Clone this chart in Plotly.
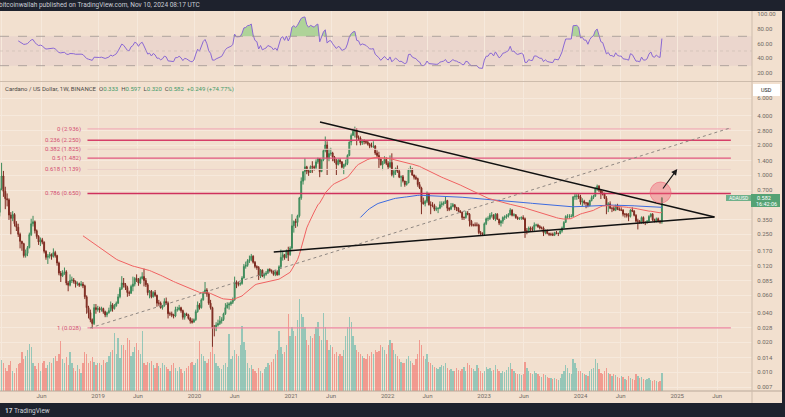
import numpy as np
import pandas as pd
import plotly.graph_objects as go

# ADA/USD weekly candles (Binance), weeks of 2017-11-27 .. 2024-11-04
first_open = 0.115
close = [
    # 2017
    0.139, 0.236, 0.367, 0.418, 0.724,
    # 2018
    0.978, 0.682, 0.575, 0.560, 0.392, 0.363, 0.398, 0.320, 0.295, 0.250, 0.212, 0.201, 0.152,
    0.160, 0.183, 0.248, 0.320, 0.335, 0.272, 0.238, 0.209, 0.220, 0.208, 0.168, 0.146, 0.150,
    0.156, 0.149, 0.163, 0.152, 0.128, 0.101, 0.095, 0.101, 0.104, 0.080, 0.076, 0.085, 0.086,
    0.083, 0.078, 0.079, 0.076, 0.078, 0.075, 0.058, 0.045, 0.040, 0.034, 0.031, 0.045, 0.043, 0.044,
    # 2019
    0.043, 0.044, 0.041, 0.038, 0.040, 0.042, 0.048, 0.044, 0.047, 0.050, 0.058, 0.070, 0.080,
    0.077, 0.072, 0.064, 0.063, 0.074, 0.078, 0.089, 0.087, 0.080, 0.089, 0.093, 0.085, 0.077,
    0.064, 0.066, 0.058, 0.064, 0.060, 0.050, 0.050, 0.045, 0.047, 0.052, 0.050, 0.039, 0.039,
    0.038, 0.037, 0.043, 0.043, 0.045, 0.042, 0.036, 0.039, 0.038, 0.035, 0.033, 0.032, 0.034,
    # 2020
    0.041, 0.048, 0.045, 0.054, 0.063, 0.068, 0.062, 0.050, 0.045, 0.028, 0.028, 0.030, 0.031,
    0.033, 0.034, 0.039, 0.045, 0.048, 0.049, 0.051, 0.054, 0.082, 0.078, 0.078, 0.079, 0.090,
    0.118, 0.121, 0.135, 0.138, 0.150, 0.130, 0.118, 0.115, 0.095, 0.108, 0.094, 0.098, 0.101,
    0.110, 0.107, 0.105, 0.098, 0.104, 0.097, 0.117, 0.146, 0.155, 0.145, 0.170, 0.155, 0.181,
    # 2021
    0.305, 0.338, 0.330, 0.385, 0.585, 0.865, 1.080, 1.210, 1.100, 1.060, 1.220, 1.210, 1.190,
    1.360, 1.470, 1.080, 1.420, 1.770, 2.020, 1.470, 1.650, 1.670, 1.520, 1.380, 1.280, 1.410,
    1.360, 1.200, 1.280, 1.310, 1.580, 2.160, 2.520, 2.780, 2.850, 2.400, 2.370, 2.120, 2.230,
    2.190, 2.150, 2.050, 1.960, 1.950, 1.970, 1.670, 1.580, 1.450, 1.270, 1.350, 1.440, 1.310,
    # 2022
    1.210, 1.340, 1.010, 1.090, 1.160, 1.090, 0.950, 0.960, 0.870, 0.800, 0.830, 1.130, 1.140,
    1.000, 0.950, 0.920, 0.800, 0.740, 0.530, 0.510, 0.540, 0.640, 0.500, 0.490, 0.490, 0.450,
    0.455, 0.460, 0.500, 0.510, 0.520, 0.550, 0.460, 0.450, 0.480, 0.500, 0.470, 0.460, 0.430,
    0.420, 0.370, 0.370, 0.410, 0.400, 0.340, 0.310, 0.310, 0.310, 0.310, 0.260, 0.255, 0.250,
    # 2023
    0.320, 0.360, 0.360, 0.390, 0.390, 0.360, 0.400, 0.355, 0.325, 0.340, 0.370, 0.375, 0.385,
    0.395, 0.440, 0.390, 0.395, 0.370, 0.360, 0.365, 0.370, 0.360, 0.270, 0.270, 0.290, 0.280,
    0.280, 0.310, 0.310, 0.300, 0.290, 0.290, 0.260, 0.270, 0.255, 0.250, 0.250, 0.245, 0.260,
    0.255, 0.255, 0.270, 0.290, 0.330, 0.380, 0.380, 0.380, 0.380, 0.600, 0.610, 0.610, 0.600,
    # 2024
    0.530, 0.540, 0.520, 0.520, 0.490, 0.550, 0.590, 0.610, 0.720, 0.770, 0.700, 0.650, 0.640,
    0.580, 0.490, 0.510, 0.460, 0.460, 0.440, 0.490, 0.450, 0.440, 0.440, 0.400, 0.400, 0.390,
    0.380, 0.440, 0.430, 0.390, 0.340, 0.340, 0.330, 0.370, 0.330, 0.330, 0.340, 0.380, 0.400,
    0.350, 0.340, 0.360, 0.340, 0.333, 0.582,
]
high = [
    0.150, 0.260, 0.395, 0.480, 0.740,
    1.330, 1.100, 0.760, 0.650, 0.580, 0.420, 0.430, 0.410, 0.340, 0.320, 0.260, 0.215, 0.205,
    0.175, 0.190, 0.260, 0.360, 0.385, 0.345, 0.280, 0.245, 0.232, 0.230, 0.212, 0.172, 0.158,
    0.165, 0.160, 0.180, 0.170, 0.155, 0.132, 0.106, 0.108, 0.115, 0.108, 0.084, 0.098, 0.093,
    0.090, 0.085, 0.083, 0.081, 0.084, 0.082, 0.077, 0.060, 0.047, 0.043, 0.035, 0.049, 0.049, 0.047,
    0.046, 0.046, 0.045, 0.042, 0.041, 0.045, 0.052, 0.050, 0.049, 0.052, 0.062, 0.073, 0.094,
    0.090, 0.080, 0.075, 0.067, 0.077, 0.093, 0.092, 0.098, 0.090, 0.093, 0.103, 0.112, 0.090,
    0.080, 0.068, 0.068, 0.066, 0.068, 0.061, 0.054, 0.052, 0.048, 0.056, 0.057, 0.052, 0.041,
    0.041, 0.039, 0.046, 0.046, 0.048, 0.046, 0.043, 0.040, 0.040, 0.039, 0.036, 0.035, 0.035,
    0.043, 0.052, 0.050, 0.056, 0.066, 0.082, 0.071, 0.064, 0.054, 0.046, 0.030, 0.032, 0.034,
    0.037, 0.036, 0.040, 0.050, 0.051, 0.051, 0.053, 0.057, 0.093, 0.085, 0.083, 0.082, 0.094,
    0.125, 0.132, 0.140, 0.152, 0.158, 0.153, 0.134, 0.121, 0.119, 0.111, 0.110, 0.102, 0.106,
    0.112, 0.113, 0.110, 0.107, 0.108, 0.108, 0.121, 0.175, 0.170, 0.158, 0.175, 0.187, 0.189,
    0.400, 0.345, 0.360, 0.395, 0.600, 0.945, 1.100, 1.480, 1.240, 1.150, 1.250, 1.380, 1.250,
    1.440, 1.500, 1.480, 1.440, 1.830, 2.460, 2.200, 1.850, 1.890, 1.720, 1.560, 1.460, 1.470,
    1.480, 1.380, 1.300, 1.430, 1.620, 2.190, 2.640, 2.970, 3.100, 3.000, 2.520, 2.470, 2.300,
    2.300, 2.230, 2.220, 2.120, 2.130, 2.200, 2.010, 1.780, 1.720, 1.470, 1.390, 1.550, 1.510,
    1.380, 1.580, 1.660, 1.120, 1.190, 1.250, 1.150, 0.990, 1.000, 0.850, 0.870, 1.160, 1.240,
    1.180, 1.010, 0.990, 0.940, 0.850, 0.760, 0.590, 0.560, 0.680, 0.660, 0.540, 0.530, 0.510,
    0.480, 0.470, 0.540, 0.540, 0.540, 0.600, 0.560, 0.470, 0.520, 0.520, 0.500, 0.470, 0.470,
    0.440, 0.420, 0.380, 0.430, 0.430, 0.410, 0.350, 0.320, 0.330, 0.330, 0.320, 0.270, 0.262,
    0.330, 0.370, 0.380, 0.410, 0.420, 0.400, 0.410, 0.410, 0.360, 0.350, 0.380, 0.390, 0.400,
    0.410, 0.460, 0.450, 0.410, 0.400, 0.380, 0.370, 0.380, 0.390, 0.370, 0.290, 0.300, 0.300,
    0.300, 0.330, 0.320, 0.320, 0.310, 0.300, 0.300, 0.280, 0.280, 0.260, 0.260, 0.260, 0.265,
    0.270, 0.260, 0.280, 0.300, 0.340, 0.390, 0.400, 0.400, 0.400, 0.610, 0.650, 0.640, 0.640,
    0.630, 0.580, 0.560, 0.530, 0.530, 0.560, 0.620, 0.630, 0.750, 0.800, 0.790, 0.710, 0.690,
    0.660, 0.610, 0.530, 0.540, 0.470, 0.480, 0.500, 0.510, 0.470, 0.470, 0.450, 0.410, 0.410,
    0.410, 0.450, 0.470, 0.440, 0.400, 0.360, 0.350, 0.380, 0.380, 0.340, 0.350, 0.390, 0.410,
    0.410, 0.360, 0.370, 0.370, 0.350, 0.597,
]
low = [
    0.110, 0.132, 0.215, 0.300, 0.380,
    0.700, 0.600, 0.450, 0.480, 0.350, 0.250, 0.340, 0.300, 0.270, 0.235, 0.180, 0.170, 0.145,
    0.145, 0.150, 0.180, 0.240, 0.300, 0.255, 0.225, 0.195, 0.190, 0.198, 0.160, 0.138, 0.125,
    0.142, 0.138, 0.145, 0.145, 0.120, 0.096, 0.082, 0.092, 0.097, 0.076, 0.066, 0.074, 0.080,
    0.079, 0.072, 0.075, 0.073, 0.074, 0.071, 0.055, 0.039, 0.035, 0.032, 0.0275, 0.030, 0.039, 0.041,
    0.040, 0.041, 0.039, 0.036, 0.036, 0.039, 0.041, 0.041, 0.043, 0.046, 0.049, 0.056, 0.068,
    0.072, 0.068, 0.058, 0.059, 0.062, 0.066, 0.074, 0.082, 0.075, 0.078, 0.087, 0.074, 0.073,
    0.060, 0.056, 0.056, 0.057, 0.058, 0.046, 0.047, 0.044, 0.043, 0.046, 0.048, 0.035, 0.037,
    0.036, 0.035, 0.036, 0.041, 0.042, 0.040, 0.034, 0.034, 0.037, 0.034, 0.031, 0.031, 0.032,
    0.033, 0.040, 0.043, 0.044, 0.053, 0.062, 0.058, 0.048, 0.043, 0.018, 0.023, 0.026, 0.029,
    0.030, 0.031, 0.033, 0.038, 0.044, 0.043, 0.047, 0.049, 0.053, 0.071, 0.074, 0.075, 0.077,
    0.089, 0.112, 0.117, 0.128, 0.133, 0.126, 0.113, 0.109, 0.086, 0.090, 0.092, 0.089, 0.095,
    0.099, 0.103, 0.100, 0.095, 0.094, 0.095, 0.096, 0.113, 0.135, 0.138, 0.143, 0.134, 0.151,
    0.175, 0.260, 0.290, 0.300, 0.370, 0.560, 0.800, 0.880, 1.020, 0.980, 1.050, 1.050, 1.110,
    1.150, 1.300, 0.950, 1.080, 1.380, 1.700, 1.000, 1.380, 1.570, 1.380, 1.330, 1.000, 1.250,
    1.290, 1.170, 1.020, 1.220, 1.260, 1.550, 2.000, 2.520, 2.400, 2.000, 2.220, 2.000, 2.020,
    2.050, 2.060, 1.990, 1.870, 1.900, 1.880, 1.600, 1.510, 1.180, 1.250, 1.120, 1.300, 1.260,
    1.150, 1.180, 0.970, 0.940, 1.000, 1.050, 0.930, 0.760, 0.840, 0.760, 0.780, 0.830, 1.060,
    0.980, 0.900, 0.890, 0.760, 0.720, 0.400, 0.500, 0.480, 0.520, 0.490, 0.400, 0.470, 0.430,
    0.430, 0.410, 0.450, 0.470, 0.490, 0.510, 0.430, 0.430, 0.440, 0.470, 0.440, 0.430, 0.420,
    0.410, 0.350, 0.350, 0.360, 0.390, 0.300, 0.300, 0.300, 0.300, 0.300, 0.250, 0.240, 0.240,
    0.240, 0.310, 0.340, 0.350, 0.370, 0.350, 0.340, 0.350, 0.310, 0.300, 0.320, 0.350, 0.360,
    0.370, 0.390, 0.380, 0.380, 0.360, 0.350, 0.350, 0.350, 0.350, 0.230, 0.250, 0.260, 0.270,
    0.270, 0.270, 0.300, 0.290, 0.280, 0.280, 0.240, 0.250, 0.250, 0.240, 0.240, 0.240, 0.240,
    0.250, 0.240, 0.250, 0.260, 0.290, 0.330, 0.360, 0.360, 0.370, 0.380, 0.560, 0.560, 0.570,
    0.500, 0.480, 0.500, 0.460, 0.470, 0.480, 0.540, 0.570, 0.600, 0.690, 0.670, 0.570, 0.620,
    0.570, 0.400, 0.420, 0.450, 0.420, 0.430, 0.430, 0.440, 0.440, 0.430, 0.380, 0.370, 0.370,
    0.340, 0.370, 0.420, 0.380, 0.330, 0.280, 0.320, 0.320, 0.320, 0.310, 0.320, 0.330, 0.370,
    0.340, 0.330, 0.330, 0.330, 0.320, 0.320,
]
volume = [
    15, 20, 25, 30, 28,
    34, 30, 25, 22, 28, 33, 22, 20, 25, 29, 30, 42, 35,
    38, 45, 51, 48, 30, 27, 24, 30, 22, 30, 33, 25, 28,
    32, 30, 36, 38, 33, 40, 54, 35, 30, 37, 28, 42, 30,
    25, 22, 28, 24, 20, 30, 42, 40, 30, 33, 37, 32, 28, 30,
    30, 28, 34, 30, 32, 38, 42, 45, 63, 40, 58, 36, 50,
    50, 45, 58, 55, 38, 42, 48, 52, 45, 40, 65, 30, 28,
    32, 30, 33, 28, 25, 30, 27, 25, 30, 28, 26, 24, 22,
    28, 30, 25, 22, 26, 24, 20, 22, 25, 27, 30, 32, 28,
    30, 35, 54, 40, 38, 33, 30, 35, 42, 48, 40, 30, 27,
    25, 24, 28, 30, 26, 62, 35, 38, 45, 40, 38, 50, 71,
    53, 45, 30, 25, 28, 24, 22, 20, 25, 22, 20, 24, 26,
    30, 28, 32, 35, 40, 45, 65, 48, 40, 42, 50, 84, 60,
    70, 65, 60, 77, 100, 84, 80, 70, 55, 50, 60, 58, 62,
    70, 75, 60, 55, 85, 70, 55, 45, 50, 48, 40, 42, 38,
    40, 38, 45, 60, 70, 80, 75, 60, 50, 45, 42, 40, 38,
    36, 35, 40, 38, 42, 40, 45, 42, 44, 50, 48, 45, 40,
    50, 55, 52, 45, 40, 38, 35, 32, 30, 30, 35, 38, 33,
    30, 28, 35, 40, 55, 50, 38, 35, 40, 32, 30, 28, 26,
    25, 24, 26, 28, 27, 30, 25, 23, 24, 22, 22, 25, 23,
    22, 24, 26, 22, 30, 28, 25, 24, 22, 28, 25, 22, 20,
    22, 26, 24, 25, 22, 23, 28, 24, 22, 20, 22, 21, 23,
    26, 30, 24, 22, 20, 19, 18, 17, 18, 32, 25, 22, 20,
    18, 22, 20, 18, 16, 15, 18, 17, 15, 14, 14, 13, 14,
    13, 12, 14, 18, 22, 28, 25, 20, 18, 35, 30, 25, 22,
    22, 20, 18, 17, 16, 22, 24, 25, 35, 30, 24, 20, 18,
    22, 25, 20, 18, 16, 18, 17, 15, 14, 16, 15, 13, 12,
    16, 14, 13, 12, 18, 16, 14, 15, 13, 12, 13, 14, 12,
    11, 12, 11, 10, 11, 20,
]
assert len(close) == len(high) == len(low) == len(volume)

# fibonacci retracement drawn by the author
fib_ratios = [0, 0.236, 0.382, 0.5, 0.618, 0.786, 1]
fib_prices = [2.936, 2.250, 1.825, 1.482, 1.139, 0.650, 0.028]
fib_colors = ["#f0a3b3", "#d63f69", "#ebcbc4", "#e0577f", "#ebd0c8", "#cf315e", "#ec86a2"]
fib_widths = [1, 1.6, 1, 1.3, 1, 1.6, 1.2]
fib_dates = ["2018-11-22", "2025-07-23"]

# trend lines (date, price)
down_dates, down_prices = ["2021-04-20", "2025-05-22"], [3.45, 0.375]
up_dates, up_prices = ["2020-10-27", "2025-05-22"], [0.165, 0.375]
dot_dates, dot_prices = ["2018-12-02", "2025-07-20"], [0.028, 3.0]
arrow_from, arrow_to = ("2024-11-04", 0.704), ("2025-01-01", 1.15)
circle_at = ("2024-10-30", 0.664)

price_ticks = [6, 4, 2.8, 2, 1.4, 1, 0.7, 0.35, 0.25, 0.17, 0.12, 0.085, 0.06, 0.04,
               0.028, 0.02, 0.014, 0.01, 0.007]
rsi_ticks = [20, 40, 60, 80, 100]
date_ticks = ["2018-01-01", "2018-06-01", "2019-01-01", "2019-06-01", "2020-01-01", "2020-06-01",
              "2021-01-01", "2021-06-01", "2022-01-01", "2022-06-01", "2023-01-01", "2023-06-01",
              "2024-01-01", "2024-06-01", "2025-01-01", "2025-06-01"]
date_labels = ["2018", "Jun", "2019", "Jun", "2020", "Jun", "2021", "Jun", "2022", "Jun",
               "2023", "Jun", "2024", "Jun", "2025", "Jun"]

dates = pd.date_range(end="2024-11-04", periods=len(close), freq="7D")
opens = [first_open] + close[:-1]


def ema(vals, n):
    # TradingView style: seeded with the simple average of the first n bars
    out = [np.nan] * len(vals)
    a = 2 / (n + 1)
    out[n - 1] = float(np.mean(vals[:n]))
    for i in range(n, len(vals)):
        out[i] = a * vals[i] + (1 - a) * out[i - 1]
    return out


ema50 = ema(close, 50)
ema200 = ema(close, 200)
s = pd.Series(close)
d = s.diff()
up = d.clip(lower=0).ewm(alpha=1 / 14, adjust=False, min_periods=14).mean()
dn = (-d.clip(upper=0)).ewm(alpha=1 / 14, adjust=False, min_periods=14).mean()
rsi = 100 - 100 / (1 + up / dn)
rsi_hot = np.maximum(rsi, 70)

bg = "#f2e0cf"
W, H = 785, 417
ML, MR, MT, MB = 0, 33, 11, 26
PW, PH = W - ML - MR, H - MT - MB


def px(x):
    return (x - ML) / PW


def py(y):
    return (H - MB - y) / PH


vol_colors = ["rgba(38,166,154,0.45)" if c >= o else "rgba(239,83,80,0.5)"
              for o, c in zip(opens, close)]

fig = go.Figure()
fig.add_trace(go.Bar(x=dates, y=volume, marker_color=vol_colors, marker_line_width=0,
                     yaxis="y", xaxis="x", width=7 * 24 * 3600 * 1000 * 0.7))

for r, p, c, w in zip(fib_ratios, fib_prices, fib_colors, fib_widths):
    fig.add_trace(go.Scatter(x=fib_dates, y=[p, p], mode="lines", yaxis="y3",
                             line=dict(color=c, width=w)))

fig.add_trace(go.Scatter(x=dot_dates, y=dot_prices, mode="lines", yaxis="y3",
                         line=dict(color="#8f8782", width=1, dash="dot")))
fig.add_trace(go.Scatter(x=dates, y=ema200, mode="lines", yaxis="y3",
                         line=dict(color="#3d6be0", width=1)))
fig.add_trace(go.Scatter(x=dates, y=ema50, mode="lines", yaxis="y3",
                         line=dict(color="#f06262", width=1)))
fig.add_trace(go.Candlestick(
    x=dates, open=opens, high=high, low=low, close=close, yaxis="y3",
    increasing=dict(line=dict(color="#3d8a5a", width=1), fillcolor="#62ad7f"),
    decreasing=dict(line=dict(color="#7e2b21", width=1), fillcolor="#8e3226"),
    whiskerwidth=0))
fig.add_trace(go.Scatter(x=down_dates, y=down_prices, mode="lines", yaxis="y3",
                         line=dict(color="#111111", width=1.5)))
fig.add_trace(go.Scatter(x=up_dates, y=up_prices, mode="lines", yaxis="y3",
                         line=dict(color="#111111", width=1.5)))
fig.add_trace(go.Scatter(x=[circle_at[0]], y=[circle_at[1]], mode="markers", yaxis="y3",
                         marker=dict(size=21, color="rgba(240,100,120,0.42)",
                                     line=dict(color="rgba(240,100,120,0.6)", width=1))))

# RSI pane
fig.add_trace(go.Scatter(x=dates, y=[70] * len(dates), mode="lines", yaxis="y2",
                         line=dict(width=0), hoverinfo="skip"))
fig.add_trace(go.Scatter(x=dates, y=rsi_hot, mode="lines", yaxis="y2", fill="tonexty",
                         fillcolor="rgba(120,200,110,0.55)", line=dict(width=0)))
fig.add_trace(go.Scatter(x=dates, y=rsi, mode="lines", yaxis="y2",
                         line=dict(color="#8a68d4", width=1)))

grid = "#f6e9dc"
tick_font = dict(family="Roboto", size=6, color="#6f6863")
shapes = [
    dict(type="rect", xref="paper", yref="y2", x0=0, x1=1, y0=30, y1=70,
         fillcolor="rgba(150,100,190,0.08)", line_width=0, layer="below"),
    dict(type="line", xref="paper", yref="y2", x0=0, x1=1, y0=70, y1=70,
         line=dict(color="#a09590", width=0.8, dash="dash")),
    dict(type="line", xref="paper", yref="y2", x0=0, x1=1, y0=30, y1=30,
         line=dict(color="#a09590", width=0.8, dash="dash")),
    dict(type="line", xref="paper", yref="y2", x0=0, x1=1, y0=50, y1=50,
         line=dict(color="#c8bab0", width=0.6, dash="dot")),
    # pane separators
    dict(type="line", xref="paper", yref="paper", x0=0, x1=px(782), y0=py(81.5), y1=py(81.5),
         line=dict(color="#cdbcac", width=1)),
    dict(type="line", xref="paper", yref="paper", x0=0, x1=px(782), y0=py(391), y1=py(391),
         line=dict(color="#b9a899", width=1)),
    dict(type="line", xref="paper", yref="paper", x0=1, x1=1, y0=py(403), y1=py(11),
         line=dict(color="#cdbcac", width=1)),
    # dark frame
    dict(type="rect", xref="paper", yref="paper", x0=px(-5), x1=px(790), y0=py(11), y1=py(-5),
         fillcolor="#1e222d", line_width=0, layer="above"),
    dict(type="rect", xref="paper", yref="paper", x0=px(-5), x1=px(790), y0=py(422), y1=py(403),
         fillcolor="#1e222d", line_width=0, layer="above"),
    dict(type="rect", xref="paper", yref="paper", x0=px(782), x1=px(790), y0=py(422), y1=py(-5),
         fillcolor="#1e222d", line_width=0, layer="above"),
    # price tags
    dict(type="rect", xref="paper", yref="paper", x0=px(753), x1=px(780), y0=py(96), y1=py(84),
         fillcolor="#ffffff", line_width=0, layer="above"),
    dict(type="rect", xref="paper", yref="paper", x0=px(726), x1=px(751), y0=py(201), y1=py(195),
         fillcolor="#6fb08a", line_width=0, layer="above"),
    dict(type="rect", xref="paper", yref="paper", x0=px(751), x1=px(780), y0=py(207), y1=py(194),
         fillcolor="#55a274", line_width=0, layer="above"),
]

green = "#3f9a68"
legend_text = ("Cardano / US Dollar, 1W, BINANCE  "
               f"O<span style='color:{green}'>0.333</span>  "
               f"H<span style='color:{green}'>0.597</span>  "
               f"L<span style='color:{green}'>0.320</span>  "
               f"C<span style='color:{green}'>0.582</span>  "
               f"<span style='color:{green}'>+0.249 (+74.77%)</span>")

annotations = [
    dict(xref="paper", yref="paper", x=px(-3.5), y=py(5.5), xanchor="left", yanchor="middle",
         text="bitcoinwallah published on TradingView.com, Nov 10, 2024 08:17 UTC",
         showarrow=False, font=dict(family="Roboto", size=6.5, color="#c9ccd4")),
    dict(xref="paper", yref="paper", x=px(3), y=py(88.5), xanchor="left", yanchor="middle",
         text=legend_text, showarrow=False, font=dict(family="Roboto", size=6, color="#4d4946")),
    dict(xref="paper", yref="paper", x=px(3), y=py(410.5), xanchor="left", yanchor="middle",
         text="<b>17</b> TradingView", showarrow=False,
         font=dict(family="Roboto", size=6.5, color="#d1d4dc")),
    dict(xref="paper", yref="paper", x=px(766), y=py(90), xanchor="center", yanchor="middle",
         text="USD", showarrow=False, font=dict(family="Roboto", size=5.5, color="#222")),
    dict(xref="paper", yref="paper", x=px(738.5), y=py(198), xanchor="center", yanchor="middle",
         text="ADAUSD", showarrow=False, font=dict(family="Roboto", size=5, color="#ffffff")),
    dict(xref="paper", yref="paper", x=px(755), y=py(197.5), xanchor="left", yanchor="middle",
         text="0.582", showarrow=False, font=dict(family="Roboto", size=5.5, color="#ffffff")),
    dict(xref="paper", yref="paper", x=px(754), y=py(203.5), xanchor="left", yanchor="middle",
         text="16:42:06", showarrow=False, font=dict(family="Roboto", size=5.5, color="#ffffff")),
    dict(xref="x", yref="y3", x=arrow_to[0], y=np.log10(arrow_to[1]),
         axref="x", ayref="y3", ax=arrow_from[0], ay=np.log10(arrow_from[1]),
         text="", showarrow=True, arrowhead=2, arrowsize=1, arrowwidth=1.2, arrowcolor="#1a1a1a"),
]
for r, p in zip(fib_ratios, fib_prices):
    annotations.append(dict(xref="x", yref="y3", x=fib_dates[0], y=np.log10(p),
                            xanchor="right", yanchor="middle", xshift=-4,
                            text=f"{r} ({p:.3f})", showarrow=False,
                            font=dict(family="Roboto", size=6, color="#d24f73")))

fig.update_layout(
    width=W, height=H,
    margin=dict(l=ML, r=MR, t=MT, b=MB),
    paper_bgcolor=bg, plot_bgcolor=bg,
    showlegend=False,
    bargap=0,
    xaxis=dict(type="date", range=["2017-12-26", "2025-10-11"], anchor="y",
               tickvals=date_ticks, ticktext=date_labels, tickfont=tick_font,
               showgrid=True, gridcolor=grid, gridwidth=1, zeroline=False,
               ticks="", showline=False, rangeslider=dict(visible=False)),
    yaxis=dict(domain=[0, py(82)], range=[0, 336], visible=False, showgrid=False,
               fixedrange=True),
    yaxis3=dict(overlaying="y", side="right", type="log", anchor="x",
                range=[-2.1929, 0.9442], tickvals=price_ticks,
                ticktext=[f"{v:.3f}" for v in price_ticks], tickfont=tick_font,
                showgrid=True, gridcolor=grid, gridwidth=1, zeroline=False,
                ticks="outside", ticklen=3, tickcolor=bg, showline=False),
    yaxis2=dict(domain=[py(81), 1], side="right", anchor="x", range=[9.1, 104.5],
                tickvals=rsi_ticks, ticktext=[f"{v:.2f}" for v in rsi_ticks],
                tickfont=tick_font, showgrid=False, zeroline=False,
                ticks="outside", ticklen=3, tickcolor=bg, showline=False),
    shapes=shapes,
    annotations=annotations,
)

# the page's default body margin would shift the chart by 8px
fig.write_html("out.html", config={"displayModeBar": False},
               post_script="document.body.style.margin='0px';")
